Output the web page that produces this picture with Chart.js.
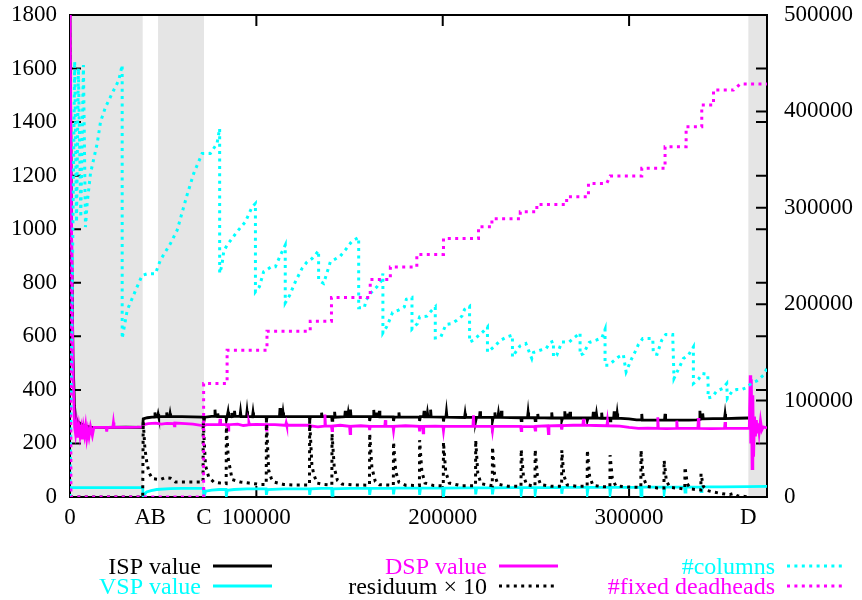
<!DOCTYPE html>
<html>
<head>
<meta charset="utf-8">
<script src="https://cdn.jsdelivr.net/npm/chart.js@4.4.0/dist/chart.umd.min.js"></script>
<style>
  html, body { margin: 0; padding: 0; background: #fff; }
</style>
</head>
<body>
<canvas id="chart" width="862" height="600"></canvas>
<script>
// x axis: iterations, with the phase markers A-D
const X_MAX = 374000;
const xTickValues = [0, 39000, 47250, 71900, 100000, 200000, 300000, 364000];
const xTickLabels = ["0", "A", "B", "C", "100000", "200000", "300000", "D"];
const xTickMarks = [100000, 200000, 300000];
const leftTicks = [0, 200, 400, 600, 800, 1000, 1200, 1400, 1600, 1800];
const rightTicks = [0, 100000, 200000, 300000, 400000, 500000];

// grey phases: [from, to]
const shadeRanges = [[0, 39000], [47250, 71900], [364000, X_MAX]];

// left axis series  [x, y]
const ispPoints = [
  [0,1800],[800,1000],[1600,520],[2400,340],[2900,300],[4000,283],[5600,274],[8000,266],[11000,261],[20000,260],[30000,261],[39000,260],
  [39300,292],[41500,296],[44000,298],[45300,299],[45600,316],[45900,299],[47000,300],[47300,310],[47600,300],[51600,301],[51900,316],[52200,300],
  [53400,300],[53700,312],[54000,300],[60000,300],[66000,299],[71500,298],[71900,284],[72400,298],
  [76000,301],[77500,302],[77800,326],[78100,301],[79000,300],[79300,312],[79600,300],[83700,300],[83900,288],[84300,300],[84500,300],[84800,318],
  [85100,300],[86500,300],[86800,314],[87100,300],[88000,301],[88300,322],[88600,301],[91200,301],[91500,318],[91800,300],[94700,300],[95000,320],
  [95300,301],[97900,300],[98200,316],[98500,300],
  [105200,300],[105400,285],[105800,300],[112400,301],[112700,332],[113000,300],[114000,300],[114300,316],[114600,300],[128400,300],[128600,284],
  [129000,300],[134700,301],[135000,315],[135300,300],[140400,300],[140600,286],[141000,299],[141700,300],[142000,318],[142300,298],[147400,300],
  [147700,322],[148000,300],[149000,300],[149300,314],[149600,300],[150200,300],[150500,326],[150800,300],
  [160600,300],[160800,284],[161200,300],[162700,300],[163000,325],[163300,300],[164300,300],[164600,316],[164900,300],[165700,300],[166000,322],
  [166300,299],[173400,299],[173600,284],[174000,298],[176200,298],[176500,316],[176800,298],[187400,298],[187600,284],[188000,300],[189700,300],
  [190000,322],[190300,299],[191500,299],[191800,314],[192100,299],[193200,299],[193500,326],[193800,299],
  [200200,298],[200400,282],[200800,298],[201700,298],[202000,318],[202300,298],[211700,297],[212000,312],[212300,297],[217500,297],[217700,284],
  [218100,297],[219700,297],[220000,320],[220300,297],[226500,297],[226700,284],[227100,297],[227700,297],[228000,316],[228300,297],[229600,297],
  [229900,312],[230200,297],[231200,297],[231500,322],[231800,297],
  [241900,296],[242100,285],[242500,296],[245500,296],[245800,316],[246100,296],[249400,296],[249600,285],[250000,296],[250700,296],[251000,310],
  [251300,296],[258200,295],[258500,316],[258800,295],[263700,295],[263900,286],[264300,295],[265200,295],[265500,320],[265800,295],[266900,295],
  [267200,312],[267500,295],[268000,295],[268300,318],[268600,295],
  [277400,295],[277600,286],[278000,295],[280500,295],[280800,318],[281100,295],[282200,295],[282500,310],[282800,295],[285000,294],[285300,315],
  [285600,294],[289600,294],[289800,284],[290200,294],[291700,294],[292000,320],[292300,294],[293300,294],[293600,312],[293900,294],
  [300000,292],[304000,288],[306500,288],[306800,310],[307100,287],[319000,287],[319300,310],[319600,287],[326000,287],[332000,287],[336300,288],
  [337700,290],[338000,322],[338300,292],[339200,292],[339500,312],[339800,292],[345000,293],[351200,293],[351500,310],[351800,293],[358000,294],[364000,295]
];
const vspPoints = [
  [0,35],[39000,35],[39300,0],[40000,10],[41100,19],[43500,24],[46500,28],[53700,31],[60000,32],[71500,32],[71900,0],[72800,22],[76000,26],[80000,28],
  [83700,28],[83900,5],[84400,25],[88000,28],[95000,30],[105200,30],[105400,8],[105900,28],[115000,30],[128400,30],[128600,8],[129100,30],[135000,32],
  [140400,32],[140600,6],[141100,30],[150000,32],[160600,32],[160800,8],[161300,32],[173400,32],[173600,10],[174100,33],[187400,33],[187600,8],
  [188100,33],[200200,33],[200400,0],[200900,33],[212000,34],[217500,34],[217700,10],[218200,34],[226500,34],[226700,10],[227200,34],[238000,35],
  [241900,35],[242100,12],[242600,35],[249400,35],[249600,12],[250100,35],[263700,35],[263900,12],[264400,36],[277400,36],[277600,14],[278100,36],
  [289600,36],[289800,12],[290300,36],[306200,37],[306400,0],[306900,37],[318600,37],[318800,14],[319300,37],[329800,37],[330000,18],[330500,37],
  [338400,37],[338600,20],[339100,38],[350000,38],[364000,39],[374000,40]
];
const dspPoints = [
  [0,1800],[600,1200],[1200,700],[1800,420],[2500,260],[3000,235],[3600,270],[4200,222],[4800,262],[5400,228],[6000,255],[6600,215],[7200,260],[7800,232],
  [8400,265],[9000,220],[9600,250],[10200,225],[11000,262],[12000,230],[12800,260],[16000,260],[19400,260],[19700,244],[20000,260],[23000,261],
  [23300,278],[23600,261],[30000,260],[36000,261],[39000,262],
  [39300,270],[42000,274],[46000,276],[49000,272],[52000,275],[55700,274],[56000,266],[56300,276],[62000,274],[66000,272],[71900,266],[73000,270],
  [76000,270],[80200,270],[80500,292],[80800,270],[84600,270],[84900,250],[85200,270],[90000,272],[93000,267],[95000,268],[95700,270],[96000,278],
  [96300,270],[100000,271],[105100,270],[105400,250],[105700,270],[110000,270],[115000,268],[115700,268],[116000,277],[116300,268],[120000,268],
  [128300,268],[128600,250],[128900,266],[133000,262],[136500,265],[136800,308],[137100,265],[140300,265],[140600,248],[140900,265],[145000,268],
  [150000,264],[150300,237],[150600,264],[156000,266],[160500,264],[160800,250],[161100,264],[168900,264],[169200,287],[169500,264],[173300,264],
  [173600,248],[173900,264],[180000,266],[187300,264],[187600,245],[187900,264],[189200,264],[189500,240],[189800,264],[196000,265],[200100,264],
  [200400,247],[200700,264],[208000,264],[216200,264],[216500,305],[216800,264],[226400,264],[226700,248],[227000,264],[235000,264],[241800,264],
  [242100,248],[242400,263],[249300,263],[249600,250],[249900,264],[256400,266],[256700,237],[257000,266],[263600,267],[263900,252],[264200,267],
  [270000,268],[275200,268],[275500,292],[275800,268],[282000,267],[288100,266],[288400,284],[288700,266],[295000,265],[300000,260],[305000,256],
  [310000,257],[315100,256],[315400,298],[315700,256],[320000,255],[325300,256],[325600,285],[325900,256],[332000,256],[336900,256],[337200,295],
  [337500,256],[344000,255],[351200,256],[351500,280],[351800,256],[358000,256],
  [364500,256],[365000,455],[365300,200],[365600,440],[366000,106],[366400,380],[366800,150],[367300,300],[367800,226],[368300,287],[368800,238],[369300,275],
  [369800,240],[370500,285],[371200,250],[372000,262],[374000,258]
];
const residuumPoints = [
  [0,0],[39000,0],[39300,280],[40200,180],[41300,125],[42500,90],[44100,69],[48500,65],[51000,72],[53900,70],[56600,56],[70000,56],[71400,56],
  [71500,280],[72700,118],[74400,75],[77100,56],[80700,52],[83800,50],[83900,262],[85000,140],[87000,65],[91400,56],[96000,52],[102100,47],[105300,47],
  [105400,287],[106600,100],[108000,70],[109300,56],[114600,47],[120000,45],[128500,45],[128600,285],[129800,120],[130700,87],[132500,52],[136000,47],
  [140500,45],[140600,237],[141800,110],[143500,62],[146000,48],[152000,45],[160700,44],[160800,237],[162000,110],[163800,58],[166000,46],[173500,44],
  [173600,205],[174800,95],[176500,55],[180000,44],[187500,43],[187600,212],[188800,95],[190500,52],[195000,43],[200300,42],[200400,205],[201600,95],
  [203500,52],[210000,42],[217600,42],[217700,212],[218800,90],[220500,50],[226600,42],[226700,187],[227800,85],[229500,48],[235000,40],[242000,40],
  [242100,177],[243300,80],[245000,46],[249500,40],[249600,177],[250800,80],[252500,46],[258000,40],[263800,40],[263900,175],[265000,80],[266800,45],
  [272000,40],[277500,40],[277600,175],[278800,78],[280500,44],[286000,38],[289700,38],[289800,156],[291000,70],[292800,42],[300000,37],[306300,36],
  [306400,175],[307600,75],[309500,40],[315000,34],[318700,34],[318800,137],[320000,60],[322000,36],[329900,30],[330000,112],[331200,50],[333000,30],
  [338500,26],[338600,87],[339800,40],[342000,24],[345000,19],[350000,12],[354000,9],[356000,13],[358000,5],[362000,2],[364000,0]
];

// right axis series  [x, y]
const columnsPoints = [
  [0,0],[1500,270000],[2500,452000],[3500,285000],[4500,445000],[5800,290000],[7200,448000],[8300,280000],[9200,304500],[11000,335700],[12800,351300],
  [14600,366800],[16400,389300],[19000,404200],[22600,418700],[26200,432500],[28000,448100],
  [28000,164400],[30700,193800],[36000,218000],[38700,230000],[41400,231500],[45800,231500],[48500,245700],[53900,263000],[57500,276800],[62800,313200],
  [66400,335700],[70900,356400],[75300,356400],[78900,366800],[80300,382400],
  [80300,232000],[81500,240000],[82500,255000],[84300,261300],[89600,275100],[94100,285500],[97700,301000],[99500,304500],
  [99500,212800],[101600,218000],[103900,233600],[108000,238800],[110200,238800],[112900,250900],[115500,261300],
  [115500,201400],[117900,209400],[120900,223200],[124500,237100],[127200,243900],[129900,247400],[133400,255400],
  [133400,224900],[136100,221500],[139700,243900],[145000,249800],[147700,256100],[151300,265400],[154900,269200],
  [154900,196200],[157900,196200],[158900,204200],[161100,211100],[164700,218000],[167400,224900],[167900,231900],
  [167900,170200],[170100,177200],[173100,191400],[176300,193800],[179400,197200],[180500,205200],[183500,207000],
  [183500,174100],[186500,180000],[187600,186800],[191500,187600],[193700,192800],[196000,197200],
  [196000,165000],[199000,166100],[201700,178900],[204900,179900],[207600,183400],[210300,187600],[211700,194500],[214400,197900],
  [214400,160900],[216500,162700],[221900,172000],[224000,176400],
  [224000,150500],[226400,154000],[231200,162700],[234400,166100],[237400,167800],
  [237400,145300],[239200,150500],[241500,156700],[244600,159200],[247800,143600],[248700,149900],[252300,152300],[255500,154000],[257600,160300],[259400,161600],
  [259400,145300],[261200,147100],[263900,160900],[267900,160900],[270700,165500],[273700,170200],
  [273700,147100],[275500,148800],[278600,160300],[282300,162700],[285400,165000],[287100,173800],
  [287100,136700],[288900,136700],[294300,145300],[296900,147800],[298400,129800],[301400,143600],[303200,150500],[305000,158200],[307300,164400],
  [312700,164400],[313000,148800],[315000,148000],[317500,162700],[319700,168600],[323400,168600],
  [324100,122900],[327300,136000],[329100,143600],[331800,147100],[334500,155700],
  [334500,117700],[337200,122200],[339300,128100],[342200,127400],[342500,110800],[342200,102800],[344700,103800],[347000,110000],[350200,112500],
  [352400,117700],[352700,102100],[355400,110000],[357700,111500],[360400,111500],[363100,113600],[365800,118300],[368500,120400],[372000,126300],[374000,133300]
];
const deadheadsPoints = [
  [0,500000],[500,0],[71700,0],[71700,117700],[84300,117700],[84300,152300],[105700,152300],[105700,172000],[128900,172000],[128900,182400],
  [140300,182400],[140300,207000],[161100,207000],[161100,225600],[171900,225600],[171900,238700],[186100,238700],[186100,251600],[200400,251600],
  [200400,268200],[219200,268200],[219200,280300],[226400,280300],[226400,288600],[241600,288600],[241600,295800],[250500,295800],[250500,303500],
  [266500,303500],[266500,311400],[278200,311400],[278200,325300],[288000,325300],[289800,332900],[306800,332900],[306800,340900],[319300,340900],
  [319300,363300],[330600,363300],[330600,384100],[339000,384100],[339000,406600],[345300,406600],[345300,422200],[356000,422200],[359600,428400],[374000,428400]
];

const BLACK = "#000000", CYAN = "#00ffff", MAGENTA = "#ff00ff", SHADE = "#e5e5e5";
const DOTS = [3, 4.4];
const FONT = "'Liberation Serif', 'Times New Roman', serif";

// legend layout: columns (text right edge, line from/to) and row line heights
const LEGEND_COLS = [[201, 213, 272], [487, 499, 558], [775, 787, 845]];
const LEGEND_ROWS = [566, 586];

const toXY = pts => pts.map(p => ({ x: p[0], y: p[1] }));

function series(label, pts, color, axis, dotted, col, row, order) {
  return {
    label, data: toXY(pts), yAxisID: axis,
    borderColor: color, backgroundColor: color,
    borderWidth: dotted ? 3 : 2.8,
    borderDash: dotted ? DOTS : [],
    borderJoinStyle: "miter",
    pointRadius: 0, tension: 0, fill: false,
    legendCol: col, legendRow: row, order
  };
}

// keep the plot box fixed: no extra room for the end labels
function fixVertical(width) {
  return s => { s.width = width; s.paddingTop = 0; s.paddingBottom = 0; };
}

// gnuplot style frame, shading and inward ticks
const framePlugin = {
  id: "frame",
  beforeDatasetsDraw(chart) {
    const { ctx, chartArea: a, scales } = chart;
    ctx.save();
    ctx.fillStyle = SHADE;
    shadeRanges.forEach(r => {
      const x0 = scales.x.getPixelForValue(r[0]);
      const x1 = scales.x.getPixelForValue(r[1]);
      ctx.fillRect(x0, a.top, x1 - x0, a.bottom - a.top);
    });
    ctx.strokeStyle = BLACK;
    ctx.lineWidth = 2;
    const T = 11;
    ctx.beginPath();
    leftTicks.forEach(v => {
      const y = scales.y.getPixelForValue(v);
      ctx.moveTo(a.left, y); ctx.lineTo(a.left + T, y);
      ctx.moveTo(a.right, y); ctx.lineTo(a.right - T, y);
    });
    rightTicks.forEach(v => {
      const y = scales.y2.getPixelForValue(v);
      ctx.moveTo(a.right, y); ctx.lineTo(a.right - T, y);
    });
    xTickMarks.forEach(v => {
      const x = scales.x.getPixelForValue(v);
      ctx.moveTo(x, a.bottom); ctx.lineTo(x, a.bottom - T);
      ctx.moveTo(x, a.top); ctx.lineTo(x, a.top + T);
    });
    ctx.stroke();
    ctx.strokeRect(a.left, a.top, a.right - a.left, a.bottom - a.top);
    ctx.restore();
  },
  afterDraw(chart) {
    const ctx = chart.ctx;
    ctx.save();
    ctx.font = "24px " + FONT;
    ctx.textAlign = "right";
    ctx.textBaseline = "alphabetic";
    chart.data.datasets.forEach(ds => {
      const c = LEGEND_COLS[ds.legendCol];
      const y = LEGEND_ROWS[ds.legendRow];
      ctx.fillStyle = ds.borderColor;
      ctx.fillText(ds.label, c[0], y + 8);
      ctx.strokeStyle = ds.borderColor;
      ctx.lineWidth = ds.borderWidth;
      ctx.setLineDash(ds.borderDash);
      ctx.beginPath();
      ctx.moveTo(c[1], y); ctx.lineTo(c[2], y);
      ctx.stroke();
    });
    ctx.restore();
  }
};

Chart.defaults.font.family = FONT;
Chart.defaults.font.size = 23;
Chart.defaults.color = BLACK;

new Chart(document.getElementById("chart"), {
  type: "line",
  data: {
    datasets: [
      series("ISP value", ispPoints, BLACK, "y", false, 0, 0, 6),
      series("VSP value", vspPoints, CYAN, "y", false, 0, 1, 5),
      series("DSP value", dspPoints, MAGENTA, "y", false, 1, 0, 4),
      series("residuum \u00d7 10", residuumPoints, BLACK, "y", true, 1, 1, 3),
      series("#columns", columnsPoints, CYAN, "y2", true, 2, 0, 2),
      series("#fixed deadheads", deadheadsPoints, MAGENTA, "y2", true, 2, 1, 1)
    ]
  },
  options: {
    responsive: false,
    animation: false,
    devicePixelRatio: 1,
    layout: { padding: { top: 15, left: 0, right: 0, bottom: 0 } },
    plugins: { legend: { display: false }, tooltip: { enabled: false } },
    scales: {
      x: {
        type: "linear", min: 0, max: X_MAX,
        afterBuildTicks: s => { s.ticks = xTickValues.map(v => ({ value: v })); },
        afterFit: s => { s.height = 103; s.paddingLeft = 0; s.paddingRight = 0; },
        grid: { display: false, drawTicks: false },
        border: { display: false },
        ticks: { autoSkip: false, maxRotation: 0, padding: 7, callback: (v, i) => xTickLabels[i] }
      },
      y: {
        position: "left", min: 0, max: 1800,
        afterBuildTicks: s => { s.ticks = leftTicks.map(v => ({ value: v })); },
        afterFit: fixVertical(70),
        grid: { display: false, drawTicks: false },
        border: { display: false },
        ticks: { padding: 13, callback: v => String(v) }
      },
      y2: {
        position: "right", min: 0, max: 500000,
        afterBuildTicks: s => { s.ticks = rightTicks.map(v => ({ value: v })); },
        afterFit: fixVertical(95),
        grid: { display: false, drawTicks: false },
        border: { display: false },
        ticks: { padding: 17, callback: v => String(v) }
      }
    }
  },
  plugins: [framePlugin]
});
</script>
</body>
</html>
